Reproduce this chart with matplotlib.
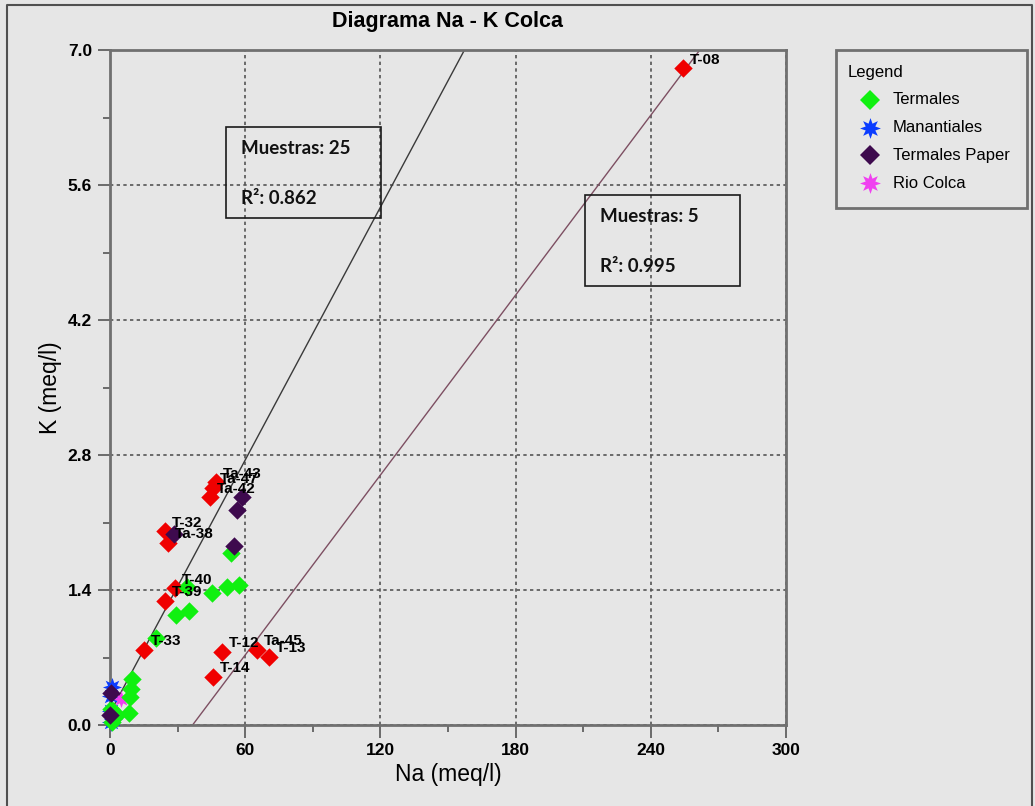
import matplotlib
matplotlib.use("Agg")
import matplotlib.pyplot as plt
from matplotlib.patches import Rectangle
from matplotlib.lines import Line2D
import numpy as np

# ---------------- data ----------------
title = "Diagrama Na - K Colca"
x_label = "Na (meq/l)"
y_label = "K (meq/l)"
x_ticks = [0, 60, 120, 180, 240, 300]
y_ticks = [0.0, 1.4, 2.8, 4.2, 5.6, 7.0]

# highlighted (labelled) samples
sel_labels = ["T-08", "Ta-43", "Ta-47", "Ta-42", "T-32", "Ta-38", "T-40", "T-39",
              "T-33", "T-12", "Ta-45", "T-13", "T-14"]
sel_na = [254.2, 47.1, 45.8, 44.4, 24.4, 25.8, 28.9, 24.4, 15.1, 49.8, 65.3, 70.7, 45.8]
sel_k = [6.81, 2.52, 2.46, 2.36, 2.01, 1.89, 1.42, 1.29, 0.78, 0.76, 0.78, 0.71, 0.50]

termales_na = [53.8, 34.2, 45.3, 52.0, 57.3, 29.3, 35.1, 20.4, 9.8, 9.3, 8.9, 8.4, 0.3, 0.9, 3.0]
termales_k = [1.78, 1.43, 1.37, 1.43, 1.45, 1.14, 1.18, 0.90, 0.48, 0.37, 0.29, 0.12, 0.17, 0.03, 0.10]

manantiales_na = [1.0, 0.3, 0.5, 0.4, 1.5]
manantiales_k = [0.39, 0.30, 0.15, 0.03, 0.06]

paper_na = [58.7, 56.4, 55.1, 28.4, 0.4, 0.2]
paper_k = [2.36, 2.23, 1.86, 1.98, 0.33, 0.10]

rio_na = [4.9]
rio_k = [0.27]

# regression lines (slope, intercept) and annotations
fit1_slope, fit1_intercept = 0.0437, 0.126
fit2_slope, fit2_intercept = 0.0311, -1.14
fit1_text = ["Muestras: 25", "R²: 0.862"]
fit2_text = ["Muestras: 5", "R²: 0.995"]

legend_title = "Legend"
legend_labels = ["Termales", "Manantiales", "Termales Paper", "Rio Colca"]

# ---------------- style ----------------
W, H = 1035, 806
BG = "#e6e6e6"
GREEN = "#10f010"
BLUE = "#0a3cff"
PURPLE = "#3e0a4e"
MAGENTA = "#f040f0"
RED = "#f00000"

def fx(px):
    return px / W

def fy(py):
    return 1 - py / H

tick_font = ["Liberation Sans Narrow", "Liberation Sans", "DejaVu Sans"]
sans = ["Liberation Sans", "DejaVu Sans"]

fig = plt.figure(figsize=(W / 100, H / 100), dpi=100, facecolor=BG)
ax = fig.add_axes([fx(110), fy(725), fx(786) - fx(110), fy(50) - fy(725)])
ax.set_facecolor(BG)

ax.set_xlim(0, 300)
ax.set_ylim(0, 7.0)
ax.set_xticks(x_ticks)
ax.set_yticks(y_ticks)
ax.set_xticklabels([str(v) for v in x_ticks])
ax.set_yticklabels([f"{v:.1f}" for v in y_ticks])
ax.set_xticks(np.arange(30, 300, 60), minor=True)
ax.set_yticks(np.arange(0.7, 7.0, 1.4), minor=True)
ax.tick_params(which="major", direction="out", length=9, width=1.2, color="#555555", pad=4)
ax.tick_params(which="minor", direction="out", length=5, width=1.2, color="#555555")
for lab in ax.get_xticklabels() + ax.get_yticklabels():
    lab.set_fontfamily(tick_font)
    lab.set_fontweight("bold")
    lab.set_fontsize(12.5)
for sp in ax.spines.values():
    sp.set_color("#707070")
    sp.set_linewidth(2)

ax.grid(True, which="major", color="#555555", linestyle=(0, (2, 2)), linewidth=1.2)
ax.set_axisbelow(True)

ax.set_xlabel(x_label, fontsize=16.5, family=sans)
ax.xaxis.set_label_coords(0.5, (725 - 775) / 675)
ax.xaxis.label.set_va("center")
ax.set_ylabel(y_label, fontsize=16.5, family=sans)
ax.yaxis.set_label_coords((50 - 110) / 676, 0.5)
ax.yaxis.label.set_va("center")

fig.text(fx(448), fy(22), title, ha="center", va="center", fontsize=15.5,
         fontweight="heavy", family=sans)

# regression lines
xa = np.array([0.0, (7.0 - fit1_intercept) / fit1_slope])
ax.plot(xa, fit1_slope * xa + fit1_intercept, color="#3a3a3a", lw=1.0, zorder=2)
xb = np.array([-fit2_intercept / fit2_slope, (7.0 - fit2_intercept) / fit2_slope])
ax.plot(xb, fit2_slope * xb + fit2_intercept, color="#7d4f62", lw=1.0, zorder=2)

# points
ms = 88
ax.scatter(sel_na, sel_k, marker="D", s=ms, color=RED, linewidths=0, zorder=3, clip_on=False)
ax.scatter(manantiales_na, manantiales_k, marker=(8, 1, 0), s=190, color=BLUE,
           linewidths=0, zorder=3, clip_on=False)
ax.scatter(rio_na, rio_k, marker=(8, 1, 0), s=150, color=MAGENTA, linewidths=0,
           zorder=3, clip_on=False)
ax.scatter(termales_na, termales_k, marker="D", s=ms, color=GREEN, linewidths=0,
           zorder=4, clip_on=False)
ax.scatter(paper_na, paper_k, marker="D", s=ms, color=PURPLE, linewidths=0,
           zorder=5, clip_on=False)

for lab, x, y in zip(sel_labels, sel_na, sel_k):
    ax.annotate(lab, (x, y), xytext=(5, 6), textcoords="offset points",
                fontsize=11, fontweight="bold", family=tick_font,
                ha="left", va="center", zorder=6)

# regression text boxes
def text_box(x0, y0, x1, y1, lines):
    fig.patches.append(Rectangle((fx(x0), fy(y1)), fx(x1) - fx(x0), fy(y0) - fy(y1),
                                 transform=fig.transFigure, fill=False,
                                 edgecolor="#1a1a1a", linewidth=1.2))
    fig.text(fx(x0 + 15), fy(y0 + 22), lines[0], fontsize=13.5, fontweight="bold",
             family=["Lato", "DejaVu Sans"], va="center", ha="left", color="#111111")
    fig.text(fx(x0 + 15), fy(y0 + 72), lines[1], fontsize=13.5, fontweight="bold",
             family=["Lato", "DejaVu Sans"], va="center", ha="left", color="#111111")

text_box(226, 127, 381, 218, fit1_text)
text_box(585, 195, 740, 286, fit2_text)

# legend (manual)
fig.patches.append(Rectangle((fx(836), fy(208)), fx(1027) - fx(836), fy(50) - fy(208),
                             transform=fig.transFigure, fill=False,
                             edgecolor="#707070", linewidth=2))
fig.text(fx(848), fy(73), legend_title, fontsize=12, family=sans, va="center", ha="left")
leg_markers = [("D", GREEN, 10.5), ((8, 1, 0), BLUE, 15), ("D", PURPLE, 10.5), ((8, 1, 0), MAGENTA, 15)]
for i, (lab, (mk, col, msz)) in enumerate(zip(legend_labels, leg_markers)):
    yy = 100 + 27.7 * i
    fig.add_artist(Line2D([fx(870)], [fy(yy)], marker=mk, color=col, markersize=msz,
                          markeredgewidth=0, linestyle="none", transform=fig.transFigure))
    fig.text(fx(893), fy(yy), lab, fontsize=12, family=sans, va="center", ha="left")

# figure border (left/top/right)
fig.add_artist(Line2D([fx(7), fx(7), fx(1032), fx(1032)], [0, fy(5), fy(5), 0],
                      color="#505050", linewidth=1.5, transform=fig.transFigure))

fig.savefig("out.png", dpi=100, facecolor=BG)
